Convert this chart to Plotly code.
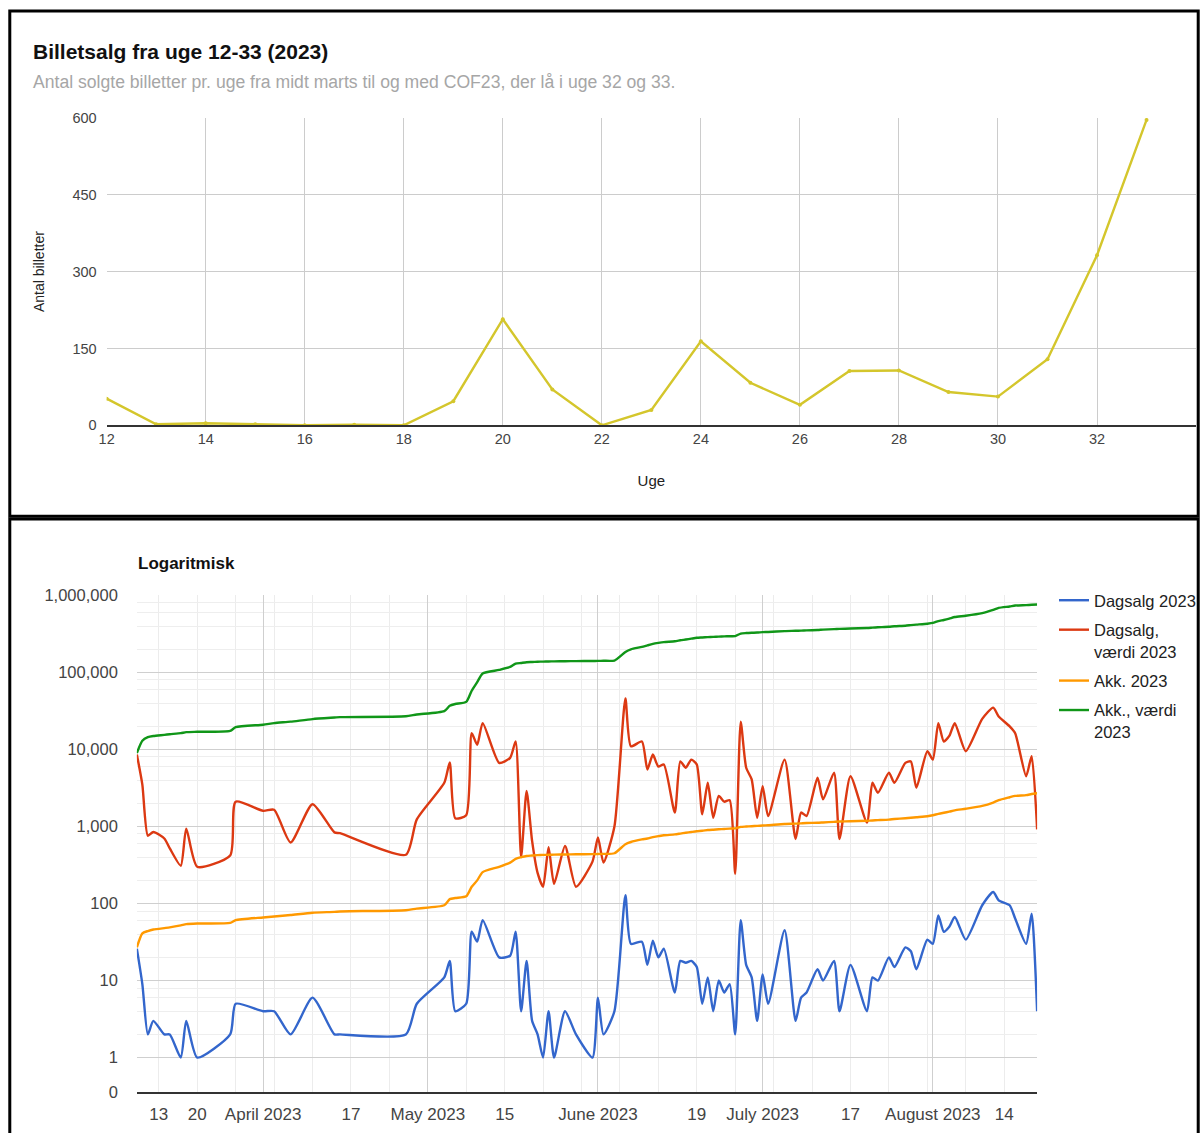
import plotly.graph_objects as go

# Figure fills the page (body margin removed); positions below are given in target-picture
# pixels and mapped through the viewer's 8px frame / scale.
W, H = 1201, 1133
SX, SY = 0.9867, 0.986
def px(x): return ((x - 7.9) / SX) / W
def py(y): return 1 - ((y - 7.9) / SY) / H

# ---------------- Top chart data ----------------
weeks = list(range(12, 34))
weekly_tickets = [52, 2, 4, 2, 0, 1, 0, 47, 207, 70, 0, 30, 164, 83, 40, 106, 107, 65, 56, 129, 332, 596]

# ---------------- Bottom chart data ----------------
dates = ["2023-03-09", "2023-03-10", "2023-03-11", "2023-03-12", "2023-03-14", "2023-03-15", "2023-03-17",
         "2023-03-18", "2023-03-20", "2023-03-26", "2023-03-27", "2023-04-01", "2023-04-03", "2023-04-06",
         "2023-04-10", "2023-04-14", "2023-04-15", "2023-04-27", "2023-04-29", "2023-05-04", "2023-05-05",
         "2023-05-06", "2023-05-08", "2023-05-09", "2023-05-10", "2023-05-11", "2023-05-14", "2023-05-16",
         "2023-05-17", "2023-05-18", "2023-05-19", "2023-05-20", "2023-05-21", "2023-05-22", "2023-05-23",
         "2023-05-24", "2023-05-26", "2023-05-28", "2023-05-31", "2023-06-01", "2023-06-02", "2023-06-04",
         "2023-06-06", "2023-06-07", "2023-06-09", "2023-06-10", "2023-06-11", "2023-06-12", "2023-06-13",
         "2023-06-15", "2023-06-16", "2023-06-17", "2023-06-18", "2023-06-19", "2023-06-20", "2023-06-21",
         "2023-06-22", "2023-06-23", "2023-06-24", "2023-06-25", "2023-06-26", "2023-06-27", "2023-06-28",
         "2023-06-29", "2023-06-30", "2023-07-01", "2023-07-02", "2023-07-05", "2023-07-07", "2023-07-08",
         "2023-07-09", "2023-07-11", "2023-07-12", "2023-07-14", "2023-07-15", "2023-07-17", "2023-07-20",
         "2023-07-21", "2023-07-22", "2023-07-24", "2023-07-25", "2023-07-27", "2023-07-28", "2023-07-29",
         "2023-07-31", "2023-08-01", "2023-08-02", "2023-08-03", "2023-08-04", "2023-08-05", "2023-08-07",
         "2023-08-10", "2023-08-12", "2023-08-13", "2023-08-15", "2023-08-16", "2023-08-18", "2023-08-19",
         "2023-08-20"]

dagsalg = [26, 9, 2, 3, 2, 2, 1, 3, 1, 2, 5, 4, 4, 2, 6, 2, 2, 2, 5, 11, 18, 4, 5, 43, 32, 61, 20, 21,
           43, 4, 18, 3, 2, 1, 4, 1, 4, 2, 1, 6, 2, 4, 128, 30, 32, 16, 33, 20, 26, 7, 18, 17, 18, 15,
           5, 11, 4, 10, 7, 9, 2, 61, 16, 11, 3, 12, 5, 45, 3, 6, 7, 14, 10, 18, 4, 16, 4, 11, 10, 20,
           15, 27, 24, 14, 34, 30, 70, 43, 50, 67, 34, 95, 141, 110, 95, 64, 30, 74, 4]

dagsalg_vaerdi = [8600, 3500, 760, 850, 700, 520, 310, 940, 300, 420, 2100, 1600, 1650, 620, 1950, 840, 820,
                  430, 1240, 3700, 6800, 1280, 1400, 16300, 11500, 22000, 6700, 7800, 12700, 400, 2900, 650,
                  250, 165, 540, 180, 560, 165, 350, 720, 340, 1000, 46000, 11000, 12700, 5500, 8600, 6000,
                  6400, 1520, 7000, 5800, 7400, 6400, 1440, 3700, 1300, 2500, 2100, 2200, 243, 23000, 5800,
                  4100, 1300, 3350, 1370, 7400, 690, 1520, 1370, 4300, 2250, 5000, 690, 4500, 1130, 3700,
                  2750, 5000, 3700, 6700, 7000, 3200, 9500, 7400, 22000, 12700, 15000, 22000, 9500, 25000,
                  35000, 26800, 20000, 16300, 4500, 8200, 920]

akk = [27, 41, 44, 46, 48, 49, 52, 54, 55, 56, 61, 66, 68, 71, 76, 78, 79, 82, 86, 95, 114, 118, 124, 165,
       200, 256, 300, 340, 380, 400, 415, 420, 425, 428, 430, 432, 434, 436, 438, 440, 442, 450, 590, 630,
       680, 700, 730, 750, 770, 790, 810, 830, 850, 870, 880, 900, 910, 920, 930, 940, 945, 990, 1000,
       1010, 1020, 1030, 1040, 1080, 1090, 1100, 1110, 1120, 1130, 1150, 1160, 1170, 1190, 1200, 1210,
       1230, 1250, 1280, 1300, 1320, 1360, 1400, 1460, 1510, 1560, 1620, 1700, 1850, 2050, 2200, 2400,
       2500, 2560, 2640, 2700]

akk_vaerdi = [9000, 13000, 14500, 15000, 15500, 15800, 16300, 16800, 17000, 17500, 19500, 21000, 22000,
              23000, 24800, 26000, 26300, 27000, 28500, 31500, 37000, 39000, 41500, 58000, 75000, 97000,
              108000, 118000, 130000, 133000, 136000, 137000, 138000, 138500, 139000, 139500, 140000,
              140500, 141000, 141500, 142000, 143000, 185000, 200000, 215000, 225000, 235000, 242000,
              248000, 255000, 262000, 268000, 275000, 282000, 285000, 288000, 290000, 292000, 294000,
              296000, 297000, 320000, 325000, 328000, 330000, 334000, 336000, 345000, 348000, 350000,
              352000, 356000, 360000, 366000, 368000, 372000, 378000, 382000, 386000, 392000, 398000,
              405000, 412000, 418000, 430000, 440000, 465000, 480000, 500000, 525000, 545000, 590000,
              650000, 690000, 720000, 740000, 750000, 758000, 765000]

series_names = ["Dagsalg 2023", "Dagsalg,<br>værdi 2023", "Akk. 2023", "Akk., værdi<br>2023"]
series_colors = ["#3366cc", "#dc3912", "#ff9900", "#109618"]

# x-axis ticks (bottom)
month_ticks = ["2023-04-01", "2023-05-01", "2023-06-01", "2023-07-01", "2023-08-01"]
month_labels = ["April 2023", "May 2023", "June 2023", "July 2023", "August 2023"]
day_ticks = ["2023-03-13", "2023-03-20", "2023-04-17", "2023-05-15", "2023-06-19", "2023-07-17", "2023-08-14"]
day_labels = ["13", "20", "17", "15", "19", "17", "14"]
mondays = ["2023-03-13", "2023-03-20", "2023-03-27", "2023-04-03", "2023-04-10", "2023-04-17", "2023-04-24",
           "2023-05-01", "2023-05-08", "2023-05-15", "2023-05-22", "2023-05-29", "2023-06-05", "2023-06-12",
           "2023-06-19", "2023-06-26", "2023-07-03", "2023-07-10", "2023-07-17", "2023-07-24", "2023-07-31",
           "2023-08-07", "2023-08-14"]

log_bottom = 10 ** -0.451
y_ticks = [log_bottom, 1, 10, 100, 1000, 10000, 100000, 1000000]
y_labels = ["0", "1", "10", "100", "1,000", "10,000", "100,000", "1,000,000"]
y_minor = [m * 10 ** e for e in range(0, 6) for m in (2, 4, 6, 8)]

FONT = "Liberation Sans, Arial, sans-serif"

fig = go.Figure()

fig.add_trace(go.Scatter(
    x=weeks, y=weekly_tickets, mode="lines+markers",
    line=dict(color="#d4c62c", width=2.4), marker=dict(size=4, color="#d4c62c"),
    xaxis="x", yaxis="y", showlegend=False))

vals = [dagsalg, dagsalg_vaerdi, akk, akk_vaerdi]
for i, (name, color, v) in enumerate(zip(series_names, series_colors, vals)):
    fig.add_trace(go.Scatter(
        x=dates, y=v, name=name, mode="lines", legendgroup=f"g{i}",
        line=dict(color=color, width=2.4, shape="spline", smoothing=0.6),
        xaxis="x2", yaxis="y2"))

# invisible trace to anchor the overlay axis carrying the day-number labels
fig.add_trace(go.Scatter(x=[dates[0], dates[-1]], y=[1, 1], mode="lines",
                         line=dict(width=0), opacity=0, showlegend=False, hoverinfo="skip",
                         xaxis="x3", yaxis="y2"))

fig.update_layout(
    width=W, height=H, margin=dict(l=0, r=0, t=0, b=0),
    paper_bgcolor="white", plot_bgcolor="white",
    font=dict(family=FONT, color="#444"),
    xaxis=dict(domain=[px(106), min(1.0, px(1189))], range=[12, 34], tickvals=list(range(12, 35, 2)),
               showgrid=True, gridcolor="#cccccc", gridwidth=1, zeroline=False,
               showline=True, linecolor="#333", linewidth=1.5,
               tickfont=dict(size=14.5, color="#444"), ticks="", anchor="y",
               title=dict(text="Uge", font=dict(size=15, color="#222"), standoff=29)),
    yaxis=dict(domain=[py(425), py(117)], range=[0, 600], tickvals=[0, 150, 300, 450, 600],
               showgrid=True, gridcolor="#cccccc", zeroline=False,
               tickfont=dict(size=14.5, color="#444"), ticklabelstandoff=9, anchor="x",
               title=dict(text="Antal billetter", font=dict(size=14, color="#222"), standoff=24)),
    xaxis2=dict(domain=[px(136), px(1031)], type="date", range=["2023-03-09", "2023-08-20"],
                tickvals=month_ticks, ticktext=month_labels, showgrid=True, gridcolor="#cfcfcf",
                minor=dict(tickmode="array", tickvals=mondays, showgrid=True, gridcolor="#ececec"),
                showline=True, linecolor="#333", linewidth=1.5, zeroline=False,
                tickfont=dict(size=17, color="#444"), ticks="", anchor="y2", ticklabelstandoff=6),
    xaxis3=dict(type="date", range=["2023-03-09", "2023-08-20"], overlaying="x2", anchor="y2",
                side="bottom", tickvals=day_ticks, ticktext=day_labels, showgrid=False,
                zeroline=False, tickfont=dict(size=17, color="#444"), ticks="", ticklabelstandoff=10),
    yaxis2=dict(domain=[py(1093.3), py(595.5)], type="log", range=[-0.451, 6.0],
                tickvals=y_ticks, ticktext=y_labels, showgrid=True, gridcolor="#cfcfcf",
                minor=dict(tickmode="array", tickvals=y_minor, showgrid=True, gridcolor="#eeeeee"),
                zeroline=False, tickfont=dict(size=16.5, color="#444"), ticklabelstandoff=18,
                anchor="x2"),
    legend=dict(x=px(1048), y=py(583), xanchor="left", yanchor="top", valign="top",
                font=dict(size=16.5, color="#222"), bgcolor="rgba(0,0,0,0)",
                tracegroupgap=5, itemwidth=30),
)

fig.update_layout(annotations=[
    dict(text="<b>Billetsalg fra uge 12-33 (2023)</b>", x=px(31), y=py(50), xref="paper", yref="paper",
         xanchor="left", yanchor="middle", showarrow=False,
         font=dict(size=21, color="#111", family=FONT)),
    dict(text="Antal solgte billetter pr. uge fra midt marts til og med COF23, der lå i uge 32 og 33.",
         x=px(31), y=py(81), xref="paper", yref="paper", xanchor="left", yanchor="middle",
         showarrow=False, font=dict(size=17.6, color="#a6a6a6", family=FONT)),
    dict(text="<b>Logaritmisk</b>", x=px(135), y=py(563), xref="paper", yref="paper",
         xanchor="left", yanchor="middle", showarrow=False,
         font=dict(size=17, color="#111", family=FONT)),
])

fig.update_layout(shapes=[
    dict(type="rect", xref="paper", yref="paper", x0=0.0015, x1=0.9985, y0=py(516), y1=py(10),
         line=dict(color="black", width=3)),
    dict(type="rect", xref="paper", yref="paper", x0=0.0015, x1=0.9985, y0=-0.05, y1=py(519),
         line=dict(color="black", width=3)),
])

fig.write_html("out.html", config={"displayModeBar": False},
               post_script="document.body.style.margin='0';")
